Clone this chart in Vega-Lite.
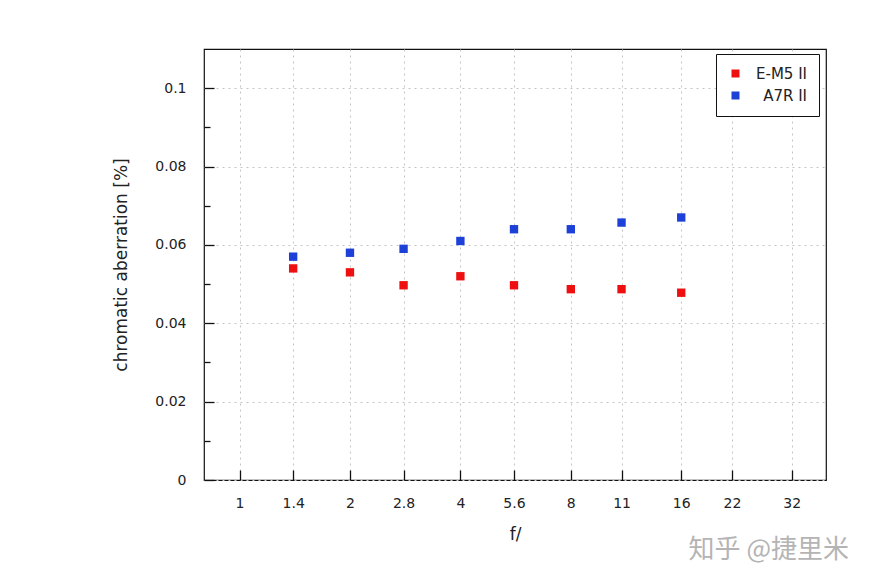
{
  "$schema": "https://vega.github.io/schema/vega-lite/v6.json",
  "width": 622,
  "height": 431,
  "padding": {"left": 112, "top": 49, "right": 5, "bottom": 5},
  "background": "white",
  "title": {
    "text": "知乎 @捷里米",
    "orient": "bottom",
    "anchor": "end",
    "frame": "group",
    "font": "Noto Sans CJK SC",
    "fontSize": 26,
    "fontWeight": "normal",
    "color": "#b4b4b4",
    "dx": 23,
    "offset": -5
  },
  "data": {
    "values": [
      {"f": 1.4, "ca": 0.054, "camera": "E-M5 II"},
      {"f": 2, "ca": 0.053, "camera": "E-M5 II"},
      {"f": 2.8, "ca": 0.0497, "camera": "E-M5 II"},
      {"f": 4, "ca": 0.052, "camera": "E-M5 II"},
      {"f": 5.6, "ca": 0.0497, "camera": "E-M5 II"},
      {"f": 8, "ca": 0.0487, "camera": "E-M5 II"},
      {"f": 11, "ca": 0.0487, "camera": "E-M5 II"},
      {"f": 16, "ca": 0.0478, "camera": "E-M5 II"},
      {"f": 1.4, "ca": 0.057, "camera": "A7R II"},
      {"f": 2, "ca": 0.058, "camera": "A7R II"},
      {"f": 2.8, "ca": 0.059, "camera": "A7R II"},
      {"f": 4, "ca": 0.061, "camera": "A7R II"},
      {"f": 5.6, "ca": 0.064, "camera": "A7R II"},
      {"f": 8, "ca": 0.064, "camera": "A7R II"},
      {"f": 11, "ca": 0.0657, "camera": "A7R II"},
      {"f": 16, "ca": 0.067, "camera": "A7R II"}
    ]
  },
  "mark": {"type": "square", "size": 70, "opacity": 1},
  "encoding": {
    "x": {
      "field": "f",
      "type": "quantitative",
      "scale": {"type": "log", "base": 2, "domain": [0.8, 39.7], "nice": false, "zero": false},
      "axis": {
        "title": "f/",
        "values": [1, 1.4, 2, 2.8, 4, 5.6, 8, 11, 16, 22, 32],
        "format": "~g",
        "tickSize": -10,
        "labelPadding": 26,
        "titlePadding": 16,
        "labelFlush": false,
        "grid": true
      }
    },
    "y": {
      "field": "ca",
      "type": "quantitative",
      "scale": {"domain": [0, 0.11], "nice": false},
      "axis": {
        "title": "chromatic aberration [%]",
        "values": [0, 0.01, 0.02, 0.03, 0.04, 0.05, 0.06, 0.07, 0.08, 0.09, 0.1],
        "format": "~g",
        "labelExpr": "round(datum.value*100) % 2 == 0 ? datum.label : ''",
        "tickSize": {"condition": {"test": "round(datum.value*100) % 2 == 1", "value": -6}, "value": -10},
        "gridOpacity": {"condition": {"test": "round(datum.value*100) % 2 == 1", "value": 0}, "value": 1},
        "labelPadding": 28,
        "titlePadding": 24,
        "labelFlush": false,
        "grid": true
      }
    },
    "color": {
      "field": "camera",
      "type": "nominal",
      "scale": {"domain": ["E-M5 II", "A7R II"], "range": ["#ee1010", "#1c40d8"]},
      "legend": {
        "title": null,
        "orient": "none",
        "legendX": 512,
        "legendY": 5,
        "strokeColor": "#111",
        "fillColor": "white",
        "padding": 12,
        "symbolType": "square",
        "symbolSize": 64,
        "symbolStrokeWidth": 0,
        "labelFontSize": 15,
        "labelAlign": "right",
        "labelOffset": 64,
        "rowPadding": 6
      }
    }
  },
  "config": {
    "font": "DejaVu Sans",
    "axis": {
      "labelFont": "DejaVu Sans",
      "labelFontSize": 14,
      "labelColor": "#222",
      "titleFont": "DejaVu Sans",
      "titleFontSize": 17,
      "titleFontWeight": "normal",
      "titleColor": "#222",
      "gridColor": "#c4c4c4",
      "gridDash": [2, 4],
      "gridWidth": 1,
      "tickColor": "#111",
      "tickWidth": 1.3,
      "domain": false
    },
    "legend": {"labelFont": "DejaVu Sans", "labelColor": "#222"},
    "view": {"stroke": "#111", "strokeWidth": 1.2}
  }
}
